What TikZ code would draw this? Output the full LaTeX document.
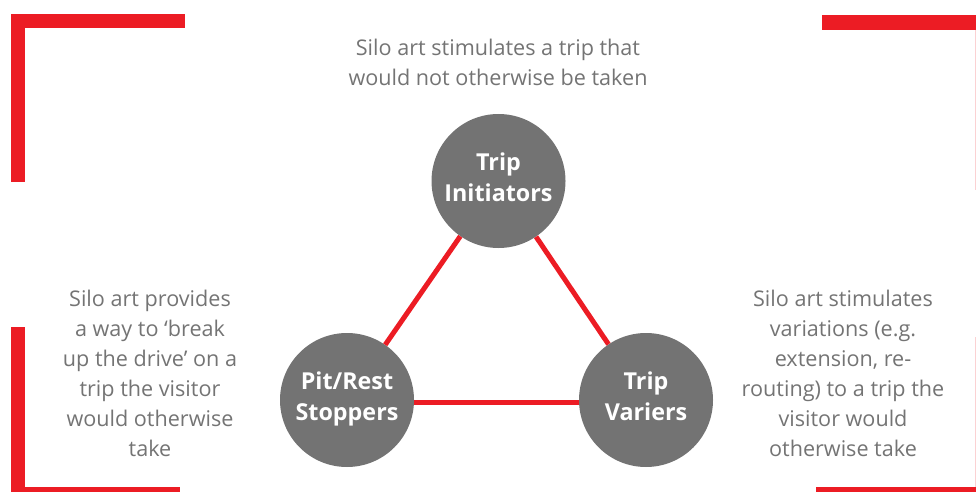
\documentclass[tikz,border=0pt]{standalone}
\usepackage{fontspec}
\setmainfont{Open Sans}
\definecolor{brred}{HTML}{EC1C24}
\definecolor{txtgrey}{HTML}{747474}
\definecolor{circgrey}{HTML}{737373}
\newcommand{\topstrut}{\rule{0pt}{21pt}}
\newcommand{\botstrut}{\rule[-11pt]{0pt}{11pt}}
\begin{document}
\begin{tikzpicture}[x=1pt,y=-1pt,
  hub/.style={circle,fill=circgrey,minimum size=134pt,inner sep=0pt,text=white,align=center,font=\fontsize{23.3}{31}\selectfont\bfseries},
  desc/.style={text=txtgrey,align=center,font=\fontsize{21.6}{30}\selectfont,inner sep=0pt},
  link/.style={draw=brred,line width=5pt},
  bar/.style={fill=brred},
  faint/.style={draw=brred!20,line width=1pt}]
\useasboundingbox (0,0) rectangle (976,492);
% brackets
\fill[bar] (11,14) rectangle (185,28);
\fill[bar] (11,14) rectangle (25,182);
\fill[bar] (822,15) rectangle (976,30);
\draw[faint] (975.5,30) -- (975.5,190);
\fill[bar] (11,327) rectangle (25,492);
\fill[bar] (11,487) rectangle (180,492);
\fill[bar] (816,487) rectangle (976,492);
\draw[faint] (975.5,337) -- (975.5,487);
% hubs
\node[hub] (ti) at (498.5,181) {\topstrut Trip\\Initiators\botstrut};
\node[hub] (ps) at (347,400) {\topstrut Pit/Rest\\Stoppers\botstrut};
\node[hub] (tv) at (646,400) {\topstrut Trip\\Variers\botstrut};
\draw[link] (ti) -- (ps);
\draw[link] (ti) -- (tv);
\draw[link] ([yshift=-2pt]ps.east) -- ([yshift=-2pt]tv.west);
% descriptions
\node[desc] (dt) at (498,62) {Silo art stimulates a trip that\\would not otherwise be taken};
\node[desc] (dl) at (150,373) {Silo art provides\\a way to ‘break\\up the drive’ on a\\trip the visitor\\would otherwise\\take};
\node[desc] (dr) at (843,373) {Silo art stimulates\\variations (e.g.\\extension, re-\\routing) to a trip the\\visitor would\\otherwise take};
\end{tikzpicture}
\end{document}
